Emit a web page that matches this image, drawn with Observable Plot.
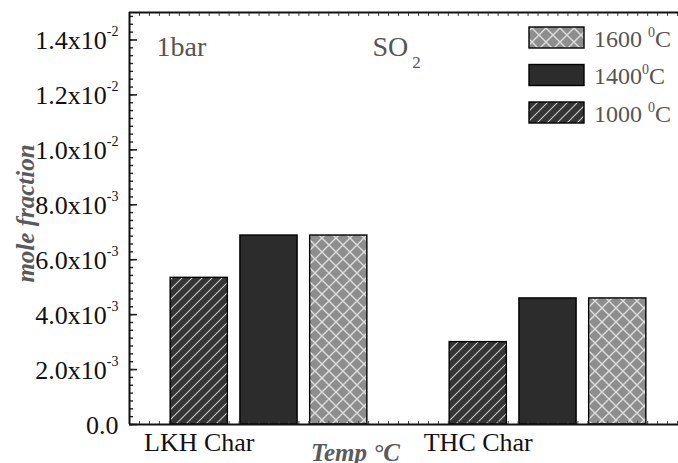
<!DOCTYPE html>
<html>
<head>
<meta charset="utf-8">
<script src="https://cdn.jsdelivr.net/npm/d3@7"></script>
<script src="https://cdn.jsdelivr.net/npm/@observablehq/plot@0.6"></script>
<style>
  html, body { margin: 0; padding: 0; background: #fff; overflow: hidden; }
  svg { display: block; max-width: none !important; height: 463px !important; }
</style>
</head>
<body>
<div id="chart"></div>
<script>
// ---- data ----
const categories = ["LKH Char", "THC Char"];
const temps = ["1000", "1400", "1600"];
const lkhValues = [5.34e-3, 6.88e-3, 6.88e-3];
const thcValues = [3.00e-3, 4.59e-3, 4.59e-3];
const yTicks = [0, 0.002, 0.004, 0.006, 0.008, 0.010, 0.012, 0.014];
const yTickLabels = ["0.0", "2.0x10^{-3}", "4.0x10^{-3}", "6.0x10^{-3}", "8.0x10^{-3}", "1.0x10^{-2}", "1.2x10^{-2}", "1.4x10^{-2}"];
const legendOrder = ["1600", "1400", "1000"];
const legendLabels = ["1600 ^{0}C", "1400^{0}C", "1000 ^{0}C"];
const annotations = ["1bar", "SO_{2}"];
const xTitle = "Temp °C";
const yTitle = "mole fraction";

// ---- derived table ----
const seriesValues = [lkhValues, thcValues];
const rows = categories.flatMap((c, gi) =>
  temps.map((t, si) => ({
    category: c,
    temp: t,
    value: seriesValues[gi][si],
    pos: gi * (temps.length + 1) + si + 1
  }))
);
const half = 0.41;
const fillOf = { "1000": "url(#hatch)", "1400": "#2c2c2c", "1600": "url(#cross)" };
const minorY = d3.range(0, 53).map(i => i * 0.002 / 7);
const minorX = d3.range(0, 57).map(i => i / 7);
const FONT = "Liberation Serif, Times New Roman, serif";

const plot = Plot.plot({
  width: 688,
  height: 463,
  marginLeft: 129,
  marginRight: 1,
  marginTop: 12,
  marginBottom: 39,
  style: { fontFamily: FONT, background: "#fff", overflow: "visible", maxWidth: "none" },
  x: { domain: [0, 8], label: null },
  y: { domain: [0, 0.015], label: null },
  marks: [
    ...temps.map(t => Plot.rectY(rows.filter(d => d.temp === t), {
      x1: d => d.pos - half,
      x2: d => d.pos + half,
      y: "value",
      fill: fillOf[t],
      stroke: "#000",
      strokeWidth: 1.4
    })),
    // minor ticks (inward)
    Plot.axisY({ ticks: minorY, tickSize: 4, dx: 4, tickFormat: () => "", label: null, stroke: "#222", strokeWidth: 1.4 }),
    Plot.axisY({ ticks: yTicks, tickSize: 8, dx: 8, tickFormat: () => "", label: null, stroke: "#222", strokeWidth: 1.6 }),
    Plot.axisX({ anchor: "bottom", ticks: minorX, tickSize: 3, dy: -3, tickFormat: () => "", label: null, stroke: "#444", strokeWidth: 1 }),
    Plot.axisX({ anchor: "top", ticks: minorX, tickSize: 3, dy: 3, tickFormat: () => "", label: null, stroke: "#444", strokeWidth: 1 }),
    // frame lines
    Plot.ruleX([0], { stroke: "#111", strokeWidth: 2 }),
    Plot.ruleY([0], { stroke: "#111", strokeWidth: 2 }),
    Plot.ruleY([0.015], { stroke: "#111", strokeWidth: 2 }),
    // y tick labels
    Plot.text(yTicks, {
      y: d => d, text: (d, i) => yTickLabels[i],
      frameAnchor: "left", textAnchor: "end", lineAnchor: "bottom",
      dx: -11, dy: 9.5, fontSize: 26, fill: "#111"
    }),
    // category labels
    Plot.text(categories, {
      x: (d, i) => i * (temps.length + 1) + 1, text: d => d,
      frameAnchor: "bottom", textAnchor: "middle", lineAnchor: "bottom",
      dy: 26, fontSize: 26, fill: "#111"
    }),
    // annotations
    Plot.text([annotations[0]], {
      text: d => d, frameAnchor: "top-left", textAnchor: "start", lineAnchor: "bottom",
      dx: 27, dy: 43, fontSize: 28, fill: "#555"
    }),
    Plot.text([annotations[1]], {
      text: d => d, frameAnchor: "top-left", textAnchor: "start", lineAnchor: "bottom",
      dx: 243, dy: 43, fontSize: 28, fill: "#555"
    }),
    // axis titles
    Plot.text([xTitle], {
      text: d => d, frameAnchor: "bottom-left", textAnchor: "middle", lineAnchor: "bottom",
      dx: 226, dy: 36, fontSize: 25, fontWeight: "bold", fontStyle: "italic", fill: "#5a5a5a"
    }),
    Plot.text([yTitle], {
      text: d => d, frameAnchor: "left", textAnchor: "middle", lineAnchor: "bottom", rotate: -90,
      dx: -96, dy: -5, fontSize: 25, fontWeight: "bold", fontStyle: "italic", fill: "#5a5a5a"
    })
  ]
});

const svgns = "http://www.w3.org/2000/svg";
function richText(el, { supSize = 14, supShift = 13, subSize = 17, subShift = 12, subDx = 0 } = {}) {
  const s = el.textContent;
  el.textContent = "";
  let offset = 0;
  for (const part of s.split(/(\^\{[^}]*\}|_\{[^}]*\})/)) {
    if (!part) continue;
    const t = document.createElementNS(svgns, "tspan");
    let target = 0;
    if (part.startsWith("^{")) {
      target = -supShift; t.setAttribute("font-size", supSize); t.textContent = part.slice(2, -1);
    } else if (part.startsWith("_{")) {
      target = subShift; t.setAttribute("font-size", subSize); t.textContent = part.slice(2, -1);
      if (subDx) t.setAttribute("dx", subDx);
    } else {
      t.textContent = part;
    }
    if (target !== offset) { t.setAttribute("dy", target - offset); offset = target; }
    el.appendChild(t);
  }
}

const svg = d3.select(plot);
svg.style("max-width", "none").style("height", "463px");
// patterns
const defs = svg.insert("defs", ":first-child");
const h = defs.append("pattern").attr("id", "hatch").attr("patternUnits", "userSpaceOnUse")
  .attr("width", 10).attr("height", 10);
h.append("rect").attr("width", 10).attr("height", 10).attr("fill", "#353535");
h.append("path").attr("d", "M0,10L10,0M-2.5,2.5L2.5,-2.5M7.5,12.5L12.5,7.5")
  .attr("stroke", "#c8c8c8").attr("stroke-width", 1.1);
const c = defs.append("pattern").attr("id", "cross").attr("patternUnits", "userSpaceOnUse")
  .attr("width", 14).attr("height", 14);
c.append("rect").attr("width", 14).attr("height", 14).attr("fill", "#8e8e8e");
c.append("path").attr("d", "M0,0L14,14M14,0L0,14")
  .attr("stroke", "#dedede").attr("stroke-width", 1.4);

// rich text (super/subscripts) for any Plot text containing markup
svg.selectAll("text").each(function () {
  const s = this.textContent || "";
  if (/\^\{|_\{/.test(s)) {
    if (/_\{/.test(s)) richText(this, { subSize: 17, subShift: 12, subDx: 4 });
    else richText(this, { supSize: 14, supShift: 13 });
  }
});

// legend
const lg = svg.append("g").attr("aria-label", "legend").attr("font-family", FONT).attr("text-anchor", "start");
legendOrder.forEach((t, i) => {
  const y0 = 27 + i * 37.5;
  lg.append("rect").attr("x", 529).attr("y", y0).attr("width", 55).attr("height", 21)
    .attr("fill", fillOf[t]).attr("stroke", "#000").attr("stroke-width", 1.4);
  const tx = lg.append("text").attr("x", 594).attr("y", y0 + 19.5).attr("text-anchor", "start")
    .attr("font-size", 24).attr("fill", "#555").text(legendLabels[i]);
  richText(tx.node(), { supSize: 14, supShift: 10 });
});

document.getElementById("chart").appendChild(plot);
</script>
</body>
</html>
